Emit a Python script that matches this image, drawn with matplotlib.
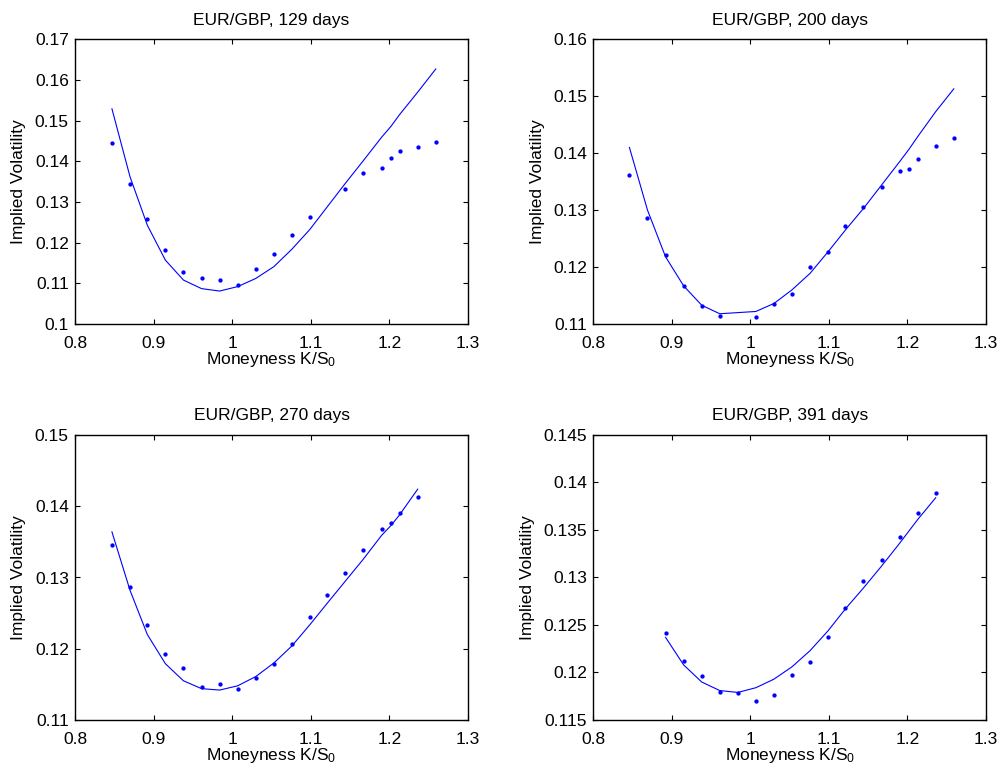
import matplotlib
matplotlib.use("Agg")
import matplotlib.pyplot as plt
from matplotlib.ticker import FuncFormatter

plt.rcParams['font.family'] = ['Liberation Sans', 'DejaVu Sans']
plt.rcParams['mathtext.fontset'] = 'custom'
plt.rcParams['mathtext.rm'] = 'Liberation Sans'
plt.rcParams['mathtext.it'] = 'Liberation Sans'
plt.rcParams['mathtext.default'] = 'regular'

titles = ["EUR/GBP, 129 days", "EUR/GBP, 200 days", "EUR/GBP, 270 days", "EUR/GBP, 391 days"]

# Panel 1 (129 days)
m1 = [0.847, 0.870, 0.892, 0.915, 0.938, 0.961, 0.984, 1.007, 1.030, 1.053, 1.076, 1.099,
      1.144, 1.167, 1.190, 1.202, 1.213, 1.236, 1.259]
mkt1 = [0.1446, 0.1344, 0.1257, 0.1183, 0.1129, 0.1114, 0.1107, 0.1096, 0.1135, 0.1173, 0.1220, 0.1264,
        0.1332, 0.1372, 0.1384, 0.1407, 0.1425, 0.1434, 0.1447]
mod1 = [0.1529, 0.1362, 0.1243, 0.1157, 0.1108, 0.1087, 0.1081, 0.1092, 0.1112, 0.1141, 0.1184, 0.1233,
        0.1346, 0.1402, 0.1459, 0.1486, 0.1515, 0.1570, 0.1627]

# Panel 2 (200 days)
m2 = [0.846, 0.869, 0.892, 0.915, 0.938, 0.961, 1.007, 1.030, 1.053, 1.076, 1.099, 1.121,
      1.144, 1.167, 1.190, 1.202, 1.213, 1.236, 1.259]
mkt2 = [0.1361, 0.1286, 0.1221, 0.1166, 0.1131, 0.1114, 0.1112, 0.1135, 0.1152, 0.1200, 0.1226, 0.1272,
        0.1306, 0.1340, 0.1369, 0.1373, 0.1389, 0.1413, 0.1427]
mod2 = [0.1410, 0.1300, 0.1218, 0.1167, 0.1133, 0.1118, 0.1122, 0.1136, 0.1160, 0.1189, 0.1227, 0.1265,
        0.1303, 0.1344, 0.1385, 0.1407, 0.1429, 0.1473, 0.1513]

# Panel 3 (270 days)
m3 = [0.847, 0.870, 0.892, 0.915, 0.938, 0.961, 0.984, 1.007, 1.030, 1.053, 1.076, 1.099, 1.121,
      1.144, 1.167, 1.190, 1.202, 1.213, 1.236]
mkt3 = [0.1345, 0.1287, 0.1234, 0.1193, 0.1173, 0.1146, 0.1151, 0.1143, 0.1159, 0.1178, 0.1206, 0.1244,
        0.1275, 0.1307, 0.1338, 0.1368, 0.1376, 0.1391, 0.1413]
mod3 = [0.1364, 0.1282, 0.1220, 0.1179, 0.1155, 0.1144, 0.1142, 0.1148, 0.1161, 0.1180, 0.1204, 0.1234,
        0.1264, 0.1295, 0.1326, 0.1359, 0.1373, 0.1388, 0.1424]

# Panel 4 (391 days)
m4 = [0.892, 0.915, 0.938, 0.961, 0.984, 1.007, 1.030, 1.053, 1.076, 1.099, 1.121, 1.144,
      1.167, 1.190, 1.213, 1.236]
mkt4 = [0.1242, 0.1212, 0.1196, 0.1179, 0.1178, 0.1170, 0.1176, 0.1197, 0.1211, 0.1237, 0.1268, 0.1296,
        0.1318, 0.1343, 0.1368, 0.1389]
mod4 = [0.1237, 0.1208, 0.1190, 0.1181, 0.1179, 0.1184, 0.1193, 0.1206, 0.1223, 0.1244, 0.1267, 0.1289,
        0.1312, 0.1336, 0.1361, 0.1384]

x_ticks = [0.8, 0.9, 1.0, 1.1, 1.2, 1.3]
y_ticks1 = [0.10, 0.11, 0.12, 0.13, 0.14, 0.15, 0.16, 0.17]
y_ticks2 = [0.11, 0.12, 0.13, 0.14, 0.15, 0.16]
y_ticks3 = [0.11, 0.12, 0.13, 0.14, 0.15]
y_ticks4 = [0.115, 0.12, 0.125, 0.13, 0.135, 0.14, 0.145]

panels = [(m1, mkt1, mod1, y_ticks1), (m2, mkt2, mod2, y_ticks2),
          (m3, mkt3, mod3, y_ticks3), (m4, mkt4, mod4, y_ticks4)]

W, H = 1001, 769
fig = plt.figure(figsize=(W / 100, H / 100), dpi=100)
fs = 12.5
blue = (0, 0, 1)

# axes rectangles in pixels: left, top, right, bottom
rects = [(75, 39.3, 468, 324), (593.3, 39.3, 986, 324),
         (75, 435, 468, 720), (593.3, 435, 986, 720)]

fmt = FuncFormatter(lambda v, p: ('%g' % round(v, 4)))

for (mx, mk, md, yt), title, (l, t, r, b) in zip(panels, titles, rects):
    ax = fig.add_axes([l / W, 1 - b / H, (r - l) / W, (b - t) / H])
    ax.plot(mx, md, color=blue, lw=0.8)
    ax.plot(mx, mk, linestyle='none', marker='o', ms=3.1, mew=0, color=blue)
    ax.set_xlim(x_ticks[0], x_ticks[-1])
    ax.set_ylim(yt[0], yt[-1])
    ax.set_xticks(x_ticks)
    ax.set_yticks(yt)
    ax.xaxis.set_major_formatter(fmt)
    ax.yaxis.set_major_formatter(fmt)
    ax.tick_params(direction='in', top=True, right=True, length=3.5, width=0.8,
                   labelsize=fs)
    ax.tick_params(axis='x', pad=8.5)
    ax.tick_params(axis='y', pad=4.5)
    for s in ax.spines.values():
        s.set_linewidth(1.0)
    ax.set_title(title, fontsize=fs, pad=10.5)
    ax.set_xlabel('Moneyness K/S$_0$', fontsize=fs)
    ax.set_ylabel('Implied Volatility', fontsize=fs, labelpad=6)
    ax.xaxis.set_label_coords(0.5, -26.0 / (b - t))

fig.savefig('out.png', dpi=100)
